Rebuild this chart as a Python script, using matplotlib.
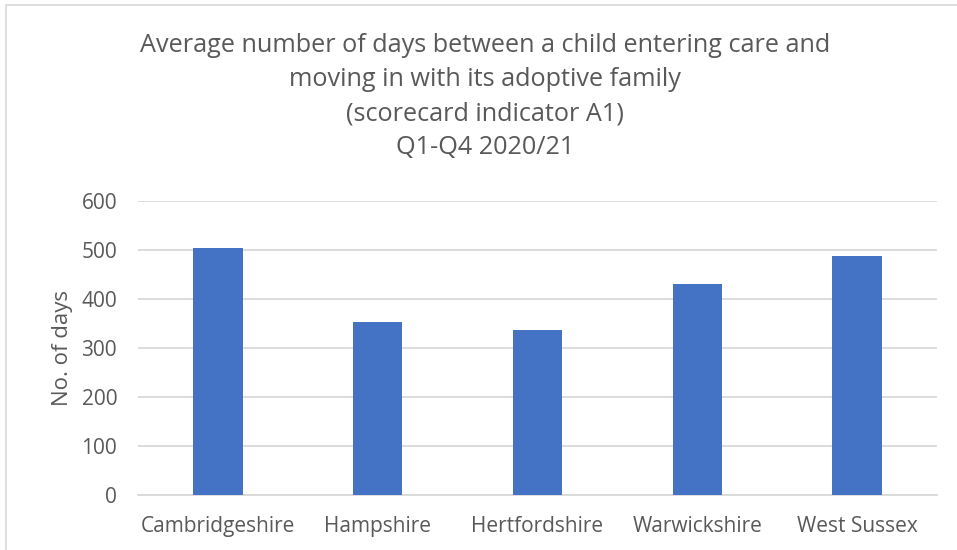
import matplotlib.pyplot as plt
import matplotlib.patches as patches

# dados
regioes = ['Cambridgeshire', 'Hampshire', 'Hertfordshire', 'Warwickshire', 'West Sussex']
dias = [504, 353, 336, 430, 487]
y_ticks = [0, 100, 200, 300, 400, 500, 600]

cor_barra = '#4472C4'
cor_texto = '#595959'
cor_grade = '#D9D9D9'

plt.rcParams['font.family'] = ['Open Sans', 'DejaVu Sans']

fig = plt.figure(figsize=(9.57, 5.5), dpi=100)
ax = fig.add_axes([0.1442, 0.1, 0.835, 0.535])

ax.bar(range(len(regioes)), dias, width=0.31, color=cor_barra, zorder=3)
ax.set_xlim(-0.5, len(regioes) - 0.5)
ax.set_ylim(0, 600)
ax.set_yticks(y_ticks)
ax.set_xticks(range(len(regioes)))
ax.set_xticklabels(regioes)
ax.tick_params(axis='both', length=0, colors=cor_texto, labelsize=15)
ax.tick_params(axis='x', pad=15)
ax.tick_params(axis='y', pad=15)
ax.grid(axis='y', color=cor_grade, linewidth=1.3, zorder=0)
for lado in ['top', 'right', 'left']:
    ax.spines[lado].set_visible(False)
ax.spines['bottom'].set_color(cor_grade)
ax.spines['bottom'].set_linewidth(1.3)
ax.set_ylabel('No. of days', fontsize=16, color=cor_texto, labelpad=6)

fig.text(0.507, 0.94,
         'Average number of days between a child entering care and\n'
         'moving in with its adoptive family\n'
         '(scorecard indicator A1)\n'
         'Q1-Q4 2020/21',
         ha='center', va='top', fontsize=18.2, color=cor_texto, linespacing=1.48)

# moldura do gráfico
fig.patches.append(patches.Rectangle((6 / 957, -0.1), 1.1, 1.1 - 4.5 / 550,
                                     transform=fig.transFigure, fill=False,
                                     edgecolor='#D9D9D9', linewidth=1.2))

fig.savefig('out.png', dpi=100)
